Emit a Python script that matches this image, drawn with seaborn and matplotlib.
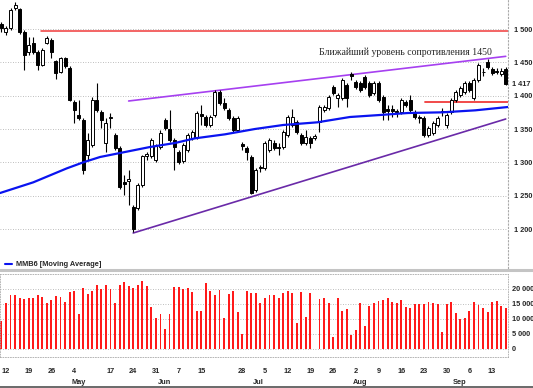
import numpy as np
import pandas as pd
import matplotlib
matplotlib.use("Agg")
import matplotlib.pyplot as plt
from matplotlib.lines import Line2D
import seaborn as sns

sns.set_style("white")
plt.rcParams["font.family"] = ["Liberation Sans", "DejaVu Sans"]

# trading days (Apr 9 - Sep 16, holidays removed)
dates = pd.bdate_range("2004-04-09", "2004-09-16")
dates = dates.drop(pd.to_datetime(["2004-05-03", "2004-05-10", "2004-06-14"]))

opens = [1507, 1495, 1501, 1531, 1530, 1495, 1465, 1479, 1465, 1446,
         1479, 1483, 1452, 1435, 1456, 1441, 1390, 1371, 1363, 1311,
         1326, 1393, 1375, 1329, 1366, 1341, 1321, 1270, 1272, 1233,
         1231, 1266, 1310, 1309, 1303, 1323, 1363, 1350, 1333, 1315,
         1302, 1318, 1336, 1338, 1372, 1368, 1356, 1371, 1405, 1389,
         1378, 1366, 1348, 1327, 1321, 1308, 1258, 1291, 1291, 1318,
         1329, 1323, 1323, 1341, 1356, 1360, 1341, 1329, 1336, 1336,
         1360, 1378, 1381, 1413, 1396, 1396, 1416, 1432, 1420, 1419,
         1428, 1419, 1404, 1419, 1398, 1380, 1380, 1377, 1375, 1390,
         1393, 1375, 1368, 1366, 1341, 1344, 1356, 1375, 1356, 1375,
         1393, 1401, 1405, 1419, 1396, 1423, 1436, 1450, 1440, 1437,
         1432, 1440]
highs = [1510, 1505, 1531, 1540, 1531, 1498, 1488, 1488, 1468, 1471,
         1489, 1486, 1453, 1458, 1458, 1444, 1393, 1393, 1366, 1344,
         1398, 1419, 1378, 1366, 1374, 1344, 1324, 1281, 1288, 1236,
         1269, 1311, 1315, 1336, 1327, 1348, 1366, 1378, 1336, 1318,
         1329, 1344, 1348, 1377, 1386, 1371, 1371, 1408, 1408, 1396,
         1381, 1369, 1369, 1330, 1324, 1311, 1291, 1296, 1332, 1336,
         1333, 1329, 1348, 1371, 1380, 1363, 1344, 1348, 1339, 1342,
         1386, 1386, 1401, 1416, 1404, 1426, 1419, 1435, 1423, 1422,
         1431, 1422, 1422, 1422, 1401, 1386, 1386, 1380, 1396, 1393,
         1401, 1378, 1371, 1369, 1354, 1362, 1369, 1381, 1374, 1396,
         1408, 1414, 1422, 1422, 1426, 1449, 1441, 1455, 1443, 1441,
         1441, 1443]
lows = [1496, 1491, 1498, 1528, 1492, 1438, 1461, 1462, 1438, 1444,
        1477, 1456, 1425, 1434, 1441, 1392, 1359, 1363, 1282, 1303,
        1323, 1375, 1351, 1315, 1351, 1318, 1260, 1251, 1236, 1195,
        1228, 1263, 1303, 1306, 1300, 1320, 1348, 1330, 1288, 1297,
        1299, 1315, 1333, 1335, 1356, 1353, 1353, 1368, 1386, 1378,
        1363, 1345, 1345, 1318, 1303, 1252, 1255, 1285, 1288, 1315,
        1318, 1311, 1320, 1338, 1353, 1342, 1326, 1326, 1321, 1333,
        1345, 1375, 1378, 1401, 1383, 1393, 1383, 1423, 1410, 1405,
        1410, 1398, 1401, 1390, 1363, 1363, 1368, 1368, 1372, 1383,
        1375, 1365, 1359, 1338, 1338, 1341, 1353, 1369, 1351, 1372,
        1390, 1398, 1402, 1405, 1393, 1420, 1430, 1440, 1431, 1432,
        1429, 1416]
closes = [1501, 1501, 1528, 1536, 1495, 1461, 1476, 1465, 1446, 1468,
          1486, 1465, 1434, 1456, 1444, 1393, 1378, 1366, 1288, 1333,
          1393, 1378, 1363, 1359, 1368, 1321, 1263, 1268, 1275, 1200,
          1266, 1309, 1312, 1333, 1324, 1344, 1351, 1333, 1323, 1300,
          1326, 1341, 1345, 1374, 1370, 1356, 1368, 1405, 1389, 1381,
          1366, 1348, 1366, 1324, 1315, 1254, 1288, 1293, 1329, 1333,
          1321, 1322, 1345, 1368, 1368, 1345, 1329, 1338, 1329, 1339,
          1383, 1383, 1398, 1404, 1401, 1423, 1396, 1430, 1413, 1408,
          1413, 1401, 1419, 1393, 1375, 1377, 1377, 1375, 1393, 1386,
          1378, 1368, 1366, 1341, 1351, 1359, 1366, 1377, 1371, 1393,
          1405, 1411, 1419, 1408, 1423, 1446, 1435, 1443, 1434, 1436,
          1437, 1417]
volume = [9300, 15200, 18000, 18000, 17100, 16600, 17100, 17100, 18000, 17400,
          15200, 16300, 17800, 17400, 15800, 19100, 19400, 11700, 20400, 18300,
          19400, 21300, 20000, 21300, 20000, 15400, 21300, 22400, 21000, 20200,
          21300, 22700, 21100, 14100, 10400, 11700, 6700, 11700, 20600, 20600,
          19900, 20400, 19100, 12600, 12600, 22100, 19400, 18000, 19700, 10200,
          18200, 19300, 12200, 5100, 19300, 18600, 18800, 15200, 17000, 18000,
          18000, 17100, 18800, 19200, 18800, 8600, 19100, 10800, 18800, 0,
          16700, 16900, 15200, 3900, 16900, 12700, 13300, 4700, 6300, 15400,
          7700, 14400, 15400, 16000, 16300, 17000, 15800, 15200, 16200, 14100,
          13600, 15000, 15000, 15000, 15800, 15200, 15000, 5800, 14900, 15600,
          12100, 9900, 10400, 12700, 15600, 14700, 13600, 12400, 15600, 16000,
          14300, 13600]

# moving average (bar index, value)
ma_idx = [-0.3, 7, 14.4, 18, 21.7, 26.1, 32.7, 38.2, 42.6, 49.2, 55.8, 62,
          69.5, 76.7, 83.3, 89.5, 97, 104.3, 111.5]
ma_val = [1254, 1270, 1291, 1300, 1308, 1314, 1323, 1329, 1336, 1342, 1350,
          1356, 1360, 1368, 1371, 1374, 1375, 1378, 1383]

# trend / level lines: (start idx, start price, end idx, end price)
upper_channel = (28, 1392, 111, 1459)
lower_channel = (29, 1194, 111, 1365)
resist_1500 = (8.7, 1497, 111.5, 1497)
support_1391 = (93.2, 1391, 111.5, 1391)

tick_days = ["2004-04-12", "2004-04-19", "2004-04-26", "2004-05-04", "2004-05-17",
             "2004-05-24", "2004-05-31", "2004-06-07", "2004-06-15", "2004-06-28",
             "2004-07-05", "2004-07-12", "2004-07-19", "2004-07-26", "2004-08-02",
             "2004-08-09", "2004-08-16", "2004-08-23", "2004-08-30", "2004-09-06",
             "2004-09-13"]
month_names = ["May", "Jun", "Jul", "Aug", "Sep"]
price_ticks = [1200, 1250, 1300, 1350, 1400, 1450, 1500]
vol_ticks = [0, 5000, 10000, 15000, 20000]

df = pd.DataFrame({"date": dates, "open": opens, "high": highs, "low": lows,
                   "close": closes, "volume": volume})
df["i"] = np.arange(len(df))

W, H = 533, 388
fig = plt.figure(figsize=(W / 100, H / 100), dpi=100)
ax = fig.add_axes([0, 1 - 268 / H, 508 / W, 268 / H])
axv = fig.add_axes([0, 1 - 357 / H, 508 / W, (357 - 274) / H])

xlim = (-0.32, 111.5)
grid_kw = dict(ls=(0, (1, 2)), color="#a8a8a8", lw=0.6)

# candles
up = df["close"] >= df["open"]
ax.vlines(df["i"], df["low"], df["high"], color="black", lw=0.8, zorder=3)
body_lo = np.minimum(df["open"], df["close"])
body_h = np.maximum(np.abs(df["close"] - df["open"]), 1.2)
ax.bar(df["i"][up], body_h[up], bottom=body_lo[up], width=0.66,
       color="white", edgecolor="black", lw=0.7, zorder=4)
ax.bar(df["i"][~up], body_h[~up], bottom=body_lo[~up], width=0.66,
       color="black", edgecolor="black", lw=0.7, zorder=4)

sns.lineplot(x=ma_idx, y=ma_val, ax=ax, color="#0a14f0", lw=1.6, sort=False,
             zorder=5, legend=False)

ax.plot(upper_channel[::2], upper_channel[1::2], color="#a640f0", lw=1.2, zorder=2)
ax.plot(lower_channel[::2], lower_channel[1::2], color="#6a2aa8", lw=1.2, zorder=2)
ax.plot(resist_1500[::2], resist_1500[1::2], color="#f03a3a", lw=1.1, zorder=2)
ax.plot(support_1391[::2], support_1391[1::2], color="#f03a3a", lw=1.3, zorder=2)

ax.text(70.0, 1465, "Ближайший уровень сопротивления 1450", fontsize=7,
        family=["Liberation Serif", "DejaVu Serif"], ha="left", va="center", zorder=6)

ax.set_xlim(*xlim)
ax.set_ylim(1141.5, 1543.5)
ax.yaxis.tick_right()
ax.set_yticks(price_ticks)
ax.set_yticklabels([f"{v // 1000} {v % 1000:03d}" for v in price_ticks])
ax.set_xticks([])
ax.tick_params(axis="y", length=0, pad=4, labelsize=5.3)
for lab in ax.get_yticklabels():
    lab.set_fontweight("bold")
ax.grid(True, axis="y", **grid_kw)
last = closes[-1]
ax.text(1.008, (last - 1141.5) / (1543.5 - 1141.5), f"{last // 1000} {last % 1000:03d}",
        transform=ax.transAxes, fontsize=5.3, fontweight="bold", va="center", ha="left")
for s in ax.spines.values():
    s.set_visible(False)
ax.spines["right"].set_visible(True)
ax.spines["right"].set_linestyle((0, (1, 2)))
ax.spines["right"].set_color("#a8a8a8")

# volume
axv.bar(df["i"], df["volume"], width=0.42, color="#ff1a1a", lw=0)
axv.set_xlim(*xlim)
axv.set_ylim(-2667, 25000)
axv.yaxis.tick_right()
axv.set_yticks(vol_ticks)
axv.set_yticklabels(["0" if v == 0 else f"{v // 1000} 000" for v in vol_ticks])
tpos = [int(df.index[df["date"] == pd.Timestamp(d)][0]) for d in tick_days]
axv.set_xticks(tpos)
axv.set_xticklabels([pd.Timestamp(d).day for d in tick_days])
axv.tick_params(axis="both", length=0, labelsize=5.3)
axv.tick_params(axis="x", pad=8)
axv.tick_params(axis="y", pad=3)
for lab in axv.get_yticklabels() + axv.get_xticklabels():
    lab.set_fontweight("bold")
axv.grid(True, axis="y", **grid_kw)
for s in axv.spines.values():
    s.set_linestyle((0, (1, 2)))
    s.set_color("#a8a8a8")
    s.set_linewidth(0.6)

# month labels under first trading day of each month
for k, m in enumerate(month_names, start=5):
    first = int(df.index[df["date"].dt.month == k][0])
    xf = (first - xlim[0]) / (xlim[1] - xlim[0]) * 508 / W
    fig.text(xf - 3 / W, 1 - 382.5 / H, m, fontsize=5.3, fontweight="bold",
             ha="left", va="center")

# legend and separators
fig.add_artist(Line2D([5 / W, 12 / W], [1 - 264 / H] * 2, color="#0a14f0", lw=1.5))
fig.text(16 / W, 1 - 264 / H, "MMB6 [Moving Average]", fontsize=5.3,
         fontweight="bold", ha="left", va="center")
fig.add_artist(Line2D([0, 1], [1 - 269.5 / H] * 2, color="#c4c4c4", lw=2.2))
fig.add_artist(Line2D([0, 1], [1 - 387 / H] * 2, color="#505050", lw=1.2))

fig.savefig("out.png", dpi=100)
